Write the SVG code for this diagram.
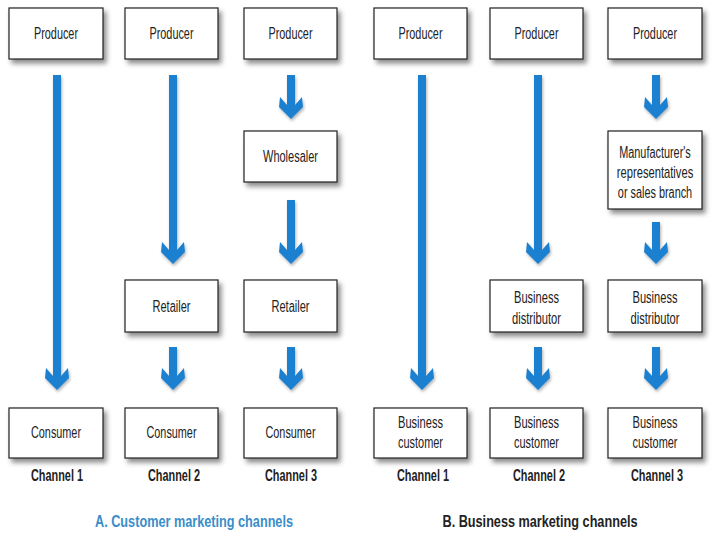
<svg xmlns="http://www.w3.org/2000/svg" width="720" height="540" viewBox="0 0 720 540">
<defs>
<filter id="sh" x="-20%" y="-20%" width="150%" height="160%">
<feDropShadow dx="3" dy="4" stdDeviation="2.5" flood-color="#000" flood-opacity="0.45"/>
</filter>
<filter id="ash" x="-50%" y="-10%" width="200%" height="130%">
<feDropShadow dx="1" dy="2" stdDeviation="1.5" flood-color="#000" flood-opacity="0.3"/>
</filter>
</defs>
<style>
.box{fill:#fff;stroke:#222;stroke-width:1.2;filter:url(#sh)}
.t{font-family:"Liberation Sans",Arial,sans-serif;font-size:16px;fill:#222;text-anchor:middle}
.ch{font-family:"Liberation Sans",Arial,sans-serif;font-size:16px;font-weight:bold;fill:#222;text-anchor:middle}
.ttl{font-family:"Liberation Sans",Arial,sans-serif;font-size:16px;font-weight:bold;text-anchor:middle}
.arr{fill:#1f80d0;filter:url(#ash)}
</style>
<rect width="720" height="540" fill="#fff"/>

<g id="connectors">
<path class="arr" d="M53,75 H61 V376 L68,368 L69,378 L57,390 L45,378 L46,368 L53,376 Z"/>
<path class="arr" d="M169,75 H177 V250 L184,242 L185,252 L173,264 L161,252 L162,242 L169,250 Z"/>
<path class="arr" d="M169,347 H177 V376 L184,368 L185,378 L173,390 L161,378 L162,368 L169,376 Z"/>
<path class="arr" d="M287,75 H295 V105 L302,97 L303,107 L291,119 L279,107 L280,97 L287,105 Z"/>
<path class="arr" d="M287,200 H295 V250 L302,242 L303,252 L291,264 L279,252 L280,242 L287,250 Z"/>
<path class="arr" d="M287,347 H295 V376 L302,368 L303,378 L291,390 L279,378 L280,368 L287,376 Z"/>
<path class="arr" d="M418,75 H426 V376 L433,368 L434,378 L422,390 L410,378 L411,368 L418,376 Z"/>
<path class="arr" d="M534,75 H542 V250 L549,242 L550,252 L538,264 L526,252 L527,242 L534,250 Z"/>
<path class="arr" d="M534,347 H542 V376 L549,368 L550,378 L538,390 L526,378 L527,368 L534,376 Z"/>
<path class="arr" d="M652,75 H660 V105 L667,97 L668,107 L656,119 L644,107 L645,97 L652,105 Z"/>
<path class="arr" d="M652,222 H660 V250 L667,242 L668,252 L656,264 L644,252 L645,242 L652,250 Z"/>
<path class="arr" d="M652,347 H660 V376 L667,368 L668,378 L656,390 L644,378 L645,368 L652,376 Z"/>
</g>

<g id="a1-producer"><rect class="box" x="9" y="8" width="94" height="51"/><text class="t" x="56" y="39" textLength="44" lengthAdjust="spacingAndGlyphs">Producer</text></g>
<g id="a2-producer"><rect class="box" x="125" y="8" width="93" height="51"/><text class="t" x="171.5" y="39" textLength="44" lengthAdjust="spacingAndGlyphs">Producer</text></g>
<g id="a3-producer"><rect class="box" x="244" y="8" width="93" height="51"/><text class="t" x="290.5" y="39" textLength="44" lengthAdjust="spacingAndGlyphs">Producer</text></g>
<g id="b1-producer"><rect class="box" x="374" y="8" width="93" height="51"/><text class="t" x="420.5" y="39" textLength="44" lengthAdjust="spacingAndGlyphs">Producer</text></g>
<g id="b2-producer"><rect class="box" x="490" y="8" width="93" height="51"/><text class="t" x="536.5" y="39" textLength="44" lengthAdjust="spacingAndGlyphs">Producer</text></g>
<g id="b3-producer"><rect class="box" x="608" y="8" width="94" height="51"/><text class="t" x="655" y="39" textLength="44" lengthAdjust="spacingAndGlyphs">Producer</text></g>

<g id="a3-wholesaler"><rect class="box" x="244" y="131" width="93" height="51"/><text class="t" x="290.5" y="162" textLength="55" lengthAdjust="spacingAndGlyphs">Wholesaler</text></g>
<g id="b3-manufacturer"><rect class="box" x="608" y="131" width="94" height="78"/>
<text class="t" transform="translate(655,158) scale(0.68,1)">Manufacturer's</text>
<text class="t" transform="translate(655,178) scale(0.7,1)">representatives</text>
<text class="t" transform="translate(655,198) scale(0.68,1)">or sales branch</text></g>

<g id="a2-retailer"><rect class="box" x="125" y="280" width="93" height="52"/><text class="t" x="171.5" y="312" textLength="38" lengthAdjust="spacingAndGlyphs">Retailer</text></g>
<g id="a3-retailer"><rect class="box" x="244" y="280" width="93" height="52"/><text class="t" x="290.5" y="312" textLength="38" lengthAdjust="spacingAndGlyphs">Retailer</text></g>
<g id="b2-distributor"><rect class="box" x="490" y="280" width="93" height="52"/>
<text class="t" x="536.5" y="303" textLength="45" lengthAdjust="spacingAndGlyphs">Business</text>
<text class="t" x="536.5" y="324" textLength="49" lengthAdjust="spacingAndGlyphs">distributor</text></g>
<g id="b3-distributor"><rect class="box" x="608" y="280" width="94" height="52"/>
<text class="t" x="655" y="303" textLength="45" lengthAdjust="spacingAndGlyphs">Business</text>
<text class="t" x="655" y="324" textLength="49" lengthAdjust="spacingAndGlyphs">distributor</text></g>

<g id="a1-consumer"><rect class="box" x="9" y="408" width="94" height="50"/><text class="t" x="56" y="438" textLength="50" lengthAdjust="spacingAndGlyphs">Consumer</text></g>
<g id="a2-consumer"><rect class="box" x="125" y="408" width="93" height="50"/><text class="t" x="171.5" y="438" textLength="50" lengthAdjust="spacingAndGlyphs">Consumer</text></g>
<g id="a3-consumer"><rect class="box" x="244" y="408" width="93" height="50"/><text class="t" x="290.5" y="438" textLength="50" lengthAdjust="spacingAndGlyphs">Consumer</text></g>
<g id="b1-customer"><rect class="box" x="374" y="408" width="93" height="50"/>
<text class="t" x="420.5" y="428" textLength="45" lengthAdjust="spacingAndGlyphs">Business</text>
<text class="t" x="420.5" y="448" textLength="45" lengthAdjust="spacingAndGlyphs">customer</text></g>
<g id="b2-customer"><rect class="box" x="490" y="408" width="93" height="50"/>
<text class="t" x="536.5" y="428" textLength="45" lengthAdjust="spacingAndGlyphs">Business</text>
<text class="t" x="536.5" y="448" textLength="45" lengthAdjust="spacingAndGlyphs">customer</text></g>
<g id="b3-customer"><rect class="box" x="608" y="408" width="94" height="50"/>
<text class="t" x="655" y="428" textLength="45" lengthAdjust="spacingAndGlyphs">Business</text>
<text class="t" x="655" y="448" textLength="45" lengthAdjust="spacingAndGlyphs">customer</text></g>

<g id="labels">
<text class="ch" x="57" y="481" textLength="52" lengthAdjust="spacingAndGlyphs">Channel 1</text>
<text class="ch" x="174" y="481" textLength="52" lengthAdjust="spacingAndGlyphs">Channel 2</text>
<text class="ch" x="291" y="481" textLength="52" lengthAdjust="spacingAndGlyphs">Channel 3</text>
<text class="ch" x="423" y="481" textLength="52" lengthAdjust="spacingAndGlyphs">Channel 1</text>
<text class="ch" x="539" y="481" textLength="52" lengthAdjust="spacingAndGlyphs">Channel 2</text>
<text class="ch" x="657" y="481" textLength="52" lengthAdjust="spacingAndGlyphs">Channel 3</text>
<text class="ttl" x="194" y="527" fill="#3a8ec8" textLength="198" lengthAdjust="spacingAndGlyphs">A. Customer marketing channels</text>
<text class="ttl" x="540" y="527" fill="#222" textLength="195" lengthAdjust="spacingAndGlyphs">B. Business marketing channels</text>
</g>
</svg>
